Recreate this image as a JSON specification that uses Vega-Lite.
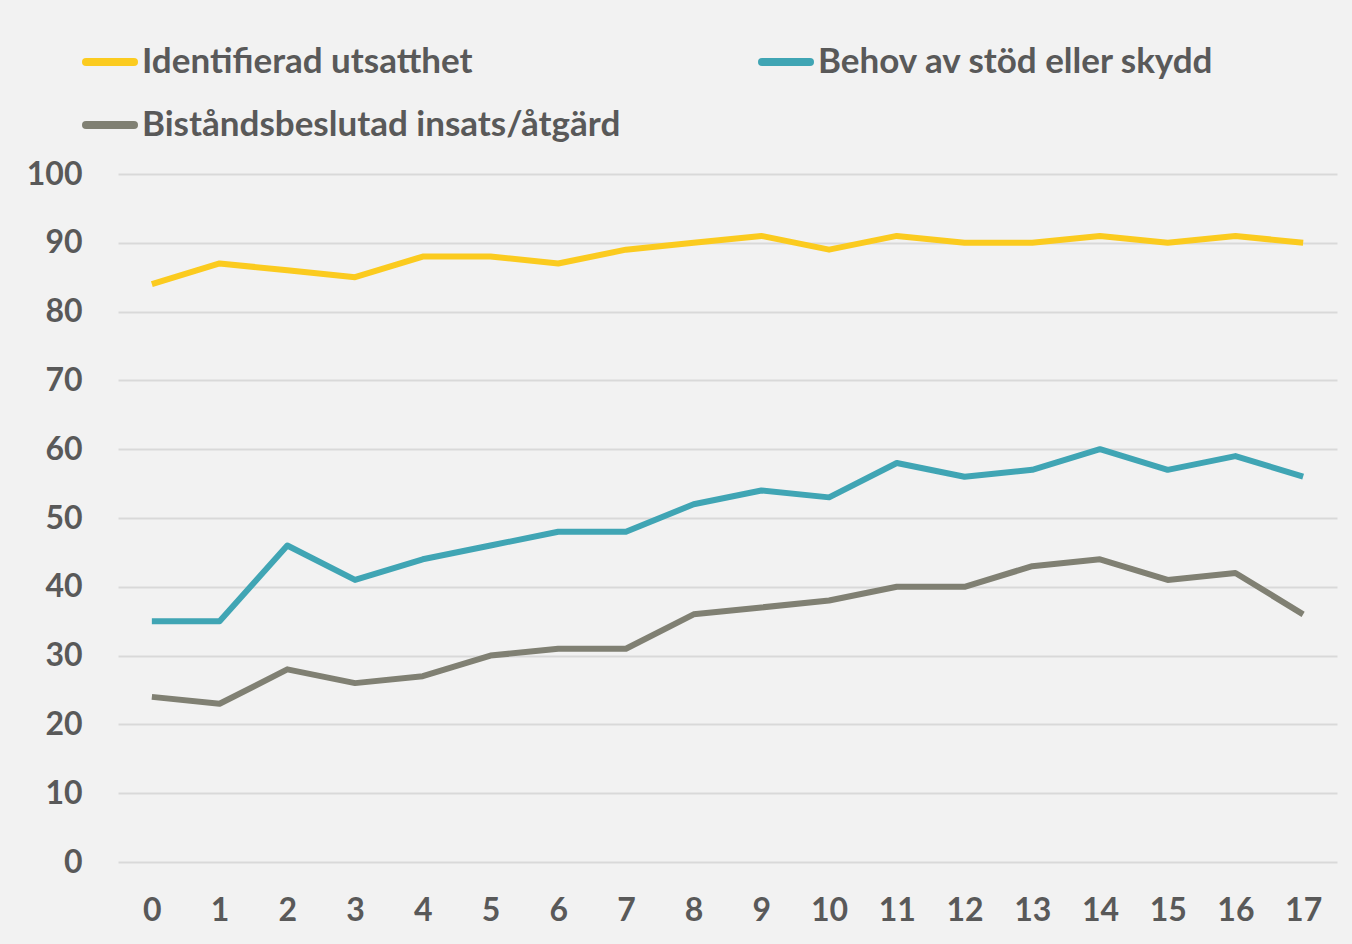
{
  "$schema": "https://vega.github.io/schema/vega-lite/v6.json",
  "width": 1219,
  "height": 688,
  "autosize": {"type": "none"},
  "padding": {"left": 118, "top": 174, "right": 15, "bottom": 82},
  "background": "#f2f2f2",
  "config": {
    "view": {"stroke": null},
    "font": "Lato",
    "axis": {"labelFont": "Lato", "labelFontWeight": "bold", "labelColor": "#595959", "labelFontSize": 32, "ticks": false, "domain": false}
  },
  "data": {
    "values": [
      {"x": 0, "s": "Identifierad utsatthet", "v": 84},
      {"x": 1, "s": "Identifierad utsatthet", "v": 87},
      {"x": 2, "s": "Identifierad utsatthet", "v": 86},
      {"x": 3, "s": "Identifierad utsatthet", "v": 85},
      {"x": 4, "s": "Identifierad utsatthet", "v": 88},
      {"x": 5, "s": "Identifierad utsatthet", "v": 88},
      {"x": 6, "s": "Identifierad utsatthet", "v": 87},
      {"x": 7, "s": "Identifierad utsatthet", "v": 89},
      {"x": 8, "s": "Identifierad utsatthet", "v": 90},
      {"x": 9, "s": "Identifierad utsatthet", "v": 91},
      {"x": 10, "s": "Identifierad utsatthet", "v": 89},
      {"x": 11, "s": "Identifierad utsatthet", "v": 91},
      {"x": 12, "s": "Identifierad utsatthet", "v": 90},
      {"x": 13, "s": "Identifierad utsatthet", "v": 90},
      {"x": 14, "s": "Identifierad utsatthet", "v": 91},
      {"x": 15, "s": "Identifierad utsatthet", "v": 90},
      {"x": 16, "s": "Identifierad utsatthet", "v": 91},
      {"x": 17, "s": "Identifierad utsatthet", "v": 90},
      {"x": 0, "s": "Behov av stöd eller skydd", "v": 35},
      {"x": 1, "s": "Behov av stöd eller skydd", "v": 35},
      {"x": 2, "s": "Behov av stöd eller skydd", "v": 46},
      {"x": 3, "s": "Behov av stöd eller skydd", "v": 41},
      {"x": 4, "s": "Behov av stöd eller skydd", "v": 44},
      {"x": 5, "s": "Behov av stöd eller skydd", "v": 46},
      {"x": 6, "s": "Behov av stöd eller skydd", "v": 48},
      {"x": 7, "s": "Behov av stöd eller skydd", "v": 48},
      {"x": 8, "s": "Behov av stöd eller skydd", "v": 52},
      {"x": 9, "s": "Behov av stöd eller skydd", "v": 54},
      {"x": 10, "s": "Behov av stöd eller skydd", "v": 53},
      {"x": 11, "s": "Behov av stöd eller skydd", "v": 58},
      {"x": 12, "s": "Behov av stöd eller skydd", "v": 56},
      {"x": 13, "s": "Behov av stöd eller skydd", "v": 57},
      {"x": 14, "s": "Behov av stöd eller skydd", "v": 60},
      {"x": 15, "s": "Behov av stöd eller skydd", "v": 57},
      {"x": 16, "s": "Behov av stöd eller skydd", "v": 59},
      {"x": 17, "s": "Behov av stöd eller skydd", "v": 56},
      {"x": 0, "s": "Biståndsbeslutad insats/åtgärd", "v": 24},
      {"x": 1, "s": "Biståndsbeslutad insats/åtgärd", "v": 23},
      {"x": 2, "s": "Biståndsbeslutad insats/åtgärd", "v": 28},
      {"x": 3, "s": "Biståndsbeslutad insats/åtgärd", "v": 26},
      {"x": 4, "s": "Biståndsbeslutad insats/åtgärd", "v": 27},
      {"x": 5, "s": "Biståndsbeslutad insats/åtgärd", "v": 30},
      {"x": 6, "s": "Biståndsbeslutad insats/åtgärd", "v": 31},
      {"x": 7, "s": "Biståndsbeslutad insats/åtgärd", "v": 31},
      {"x": 8, "s": "Biståndsbeslutad insats/åtgärd", "v": 36},
      {"x": 9, "s": "Biståndsbeslutad insats/åtgärd", "v": 37},
      {"x": 10, "s": "Biståndsbeslutad insats/åtgärd", "v": 38},
      {"x": 11, "s": "Biståndsbeslutad insats/åtgärd", "v": 40},
      {"x": 12, "s": "Biståndsbeslutad insats/åtgärd", "v": 40},
      {"x": 13, "s": "Biståndsbeslutad insats/åtgärd", "v": 43},
      {"x": 14, "s": "Biståndsbeslutad insats/åtgärd", "v": 44},
      {"x": 15, "s": "Biståndsbeslutad insats/åtgärd", "v": 41},
      {"x": 16, "s": "Biståndsbeslutad insats/åtgärd", "v": 42},
      {"x": 17, "s": "Biståndsbeslutad insats/åtgärd", "v": 36}
    ]
  },
  "mark": {"type": "line", "strokeWidth": 6, "strokeJoin": "round"},
  "encoding": {
    "x": {
      "field": "x", "type": "ordinal", "title": null,
      "scale": {"type": "point", "padding": 0.5},
      "axis": {"labelAngle": 0, "grid": false, "labelPadding": 33}
    },
    "y": {
      "field": "v", "type": "quantitative", "title": null,
      "scale": {"domain": [0, 100], "nice": false},
      "axis": {"values": [0,10,20,30,40,50,60,70,80,90,100], "labelPadding": 36, "gridColor": "#d9d9d9", "gridWidth": 2}
    },
    "color": {
      "field": "s", "type": "nominal", "title": null,
      "scale": {"domain": ["Identifierad utsatthet", "Biståndsbeslutad insats/åtgärd", "Behov av stöd eller skydd"], "range": ["#fbcb1f", "#808073", "#40a5b4"]},
      "legend": {
        "orient": "none", "legendX": -36, "legendY": -140,
        "columns": 2, "columnPadding": 125, "rowPadding": 17,
        "symbolType": "stroke", "symbolSize": 2304, "symbolStrokeWidth": 8,
        "labelFont": "Lato", "labelFontWeight": "bold", "labelFontSize": 35, "labelColor": "#595959",
        "labelOffset": 4, "labelLimit": 800,
        "encode": {"symbols": {"update": {"strokeCap": {"value": "round"}}}}
      }
    }
  }
}
